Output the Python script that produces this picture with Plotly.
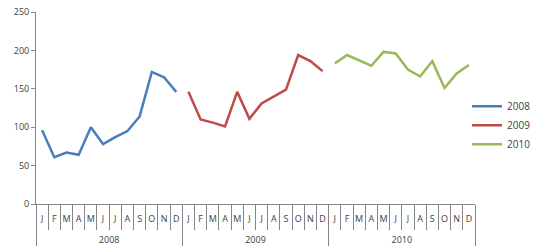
import plotly.graph_objects as go

years = ["2008", "2009", "2010"]
months = ["J", "F", "M", "A", "M", "J", "J", "A", "S", "O", "N", "D"]
v2008 = [96, 61, 67, 64, 100, 78, 87, 95, 114, 172, 165, 146]
v2009 = [146, 110, 106, 101, 146, 111, 131, 140, 149, 194, 186, 173]
v2010 = [183, 194, 187, 180, 198, 196, 175, 166, 186, 151, 170, 181]
colors = {"2008": "#4a7ebb", "2009": "#be4b48", "2010": "#98b954"}

# make duplicate month letters unique with zero-width spaces;
# a blank second line gives room between the month row and the year row
mlabels = []
seen = {}
for m in months:
    n = seen.get(m, 0)
    mlabels.append(m + "\u200b" * n + "<br>\u00a0")
    seen[m] = n + 1

fig = go.Figure()
for y, vals in zip(years, [v2008, v2009, v2010]):
    fig.add_trace(go.Scatter(
        x=[[y] * 12, mlabels], y=vals, mode="lines", name=y,
        line=dict(color=colors[y], width=2.5),
        hovertemplate="%{y}<extra>" + y + "</extra>",
    ))

axis_col = "#868686"
ncat = len(years) * len(months)
fig.update_layout(
    width=535, height=251,
    margin=dict(l=36, r=60, t=12, b=47, autoexpand=False),
    paper_bgcolor="white", plot_bgcolor="white",
    font=dict(family="Open Sans", size=9, color="#404040"),
    showlegend=True,
    legend=dict(x=1.139, y=0.41, xanchor="right", yanchor="middle",
                font=dict(size=10), tracegroupgap=2, itemwidth=30,
                bgcolor="rgba(0,0,0,0)"),
    xaxis=dict(type="multicategory", showline=True, linecolor=axis_col,
               range=[-0.5, ncat - 0.5], tickangle=0, ticklabelstandoff=6,
               ticks="outside", tickson="boundaries", ticklen=25, tickcolor=axis_col,
               showdividers=True, dividercolor=axis_col, dividerwidth=1,
               showgrid=False, tickfont=dict(size=9)),
    yaxis=dict(range=[0, 250], dtick=50, showline=True, linecolor=axis_col,
               ticks="outside", ticklen=4, tickcolor=axis_col, showgrid=False,
               zeroline=False, tickfont=dict(size=9)),
)
fig.write_html("out.html")
